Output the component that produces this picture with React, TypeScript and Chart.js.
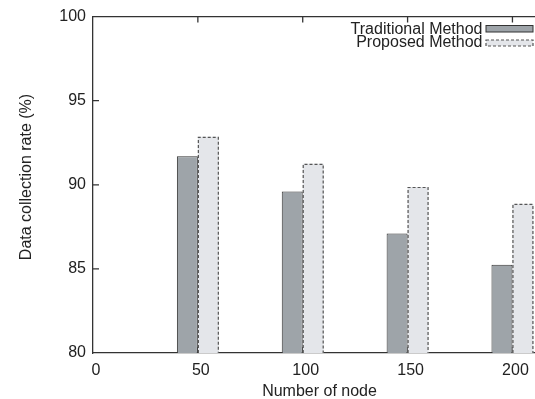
import { useEffect, useRef } from 'react';
import { Chart, registerables } from 'chart.js';

Chart.register(...registerables);

const nodeCounts = [50, 100, 150, 200];
const traditionalRates = [91.7, 89.6, 87.1, 85.25];
const proposedRates = [92.85, 91.25, 89.87, 88.86];
const xTicks = [0, 50, 100, 150, 200];
const yTicks = [80, 85, 90, 95, 100];
const seriesLabels = ['Traditional Method', 'Proposed Method'];
const xTitle = 'Number of node';
const yTitle = 'Data collection rate (%)';

const FONT = "'Liberation Sans', Arial, Helvetica, sans-serif";
const TEXT = '#222';
const AXIS = '#333';
const TRAD_FILL = '#9ea4a9';
const PROP_FILL = '#e4e6ea';
const PROP_BORDER = '#555';

const W = 546;
const H = 399;

const dashedBars = {
  id: 'dashedBars',
  afterDatasetsDraw(chart: any) {
    const ctx = chart.ctx;
    const bottom = chart.chartArea.bottom;
    const meta = chart.getDatasetMeta(1);
    ctx.save();
    ctx.setLineDash([3, 2]);
    ctx.strokeStyle = PROP_BORDER;
    ctx.lineWidth = 1.2;
    meta.data.forEach((el: any) => {
      const { x, y, base, width } = el.getProps(['x', 'y', 'base', 'width'], true);
      const b = Math.min(base, bottom);
      const l = x - width / 2;
      ctx.beginPath();
      ctx.moveTo(l + 0.5, b);
      ctx.lineTo(l + 0.5, y + 0.5);
      ctx.lineTo(l + width - 0.5, y + 0.5);
      ctx.lineTo(l + width - 0.5, b);
      ctx.stroke();
    });
    ctx.restore();
  },
};

const frame = {
  id: 'frame',
  beforeDatasetsDraw(chart: any) {
    const ctx = chart.ctx;
    const { left, right, top, bottom } = chart.chartArea;
    const xs = chart.scales.x;
    const ys = chart.scales.y;
    ctx.save();
    ctx.strokeStyle = AXIS;
    ctx.lineWidth = 1.3;
    ctx.beginPath();
    ctx.moveTo(left, top);
    ctx.lineTo(right, top);
    xTicks.forEach((v) => {
      if (v === 0) return;
      const px = xs.getPixelForValue(v);
      ctx.moveTo(px, top);
      ctx.lineTo(px, top + 6);
      ctx.moveTo(px, bottom);
      ctx.lineTo(px, bottom - 6);
    });
    yTicks.forEach((v) => {
      if (v === 80 || v === 100) return;
      const py = ys.getPixelForValue(v);
      ctx.moveTo(left, py);
      ctx.lineTo(left + 6, py);
    });
    ctx.stroke();

    // y-axis title
    ctx.font = `16px ${FONT}`;
    ctx.fillStyle = TEXT;
    ctx.textAlign = 'center';
    ctx.textBaseline = 'middle';
    ctx.translate(27, 177);
    ctx.rotate(-Math.PI / 2);
    ctx.fillText(yTitle, 0, 0);
    ctx.restore();
  },
};

const legendBox = {
  id: 'legendBox',
  afterDraw(chart: any) {
    const ctx = chart.ctx;
    ctx.save();
    ctx.font = `16px ${FONT}`;
    ctx.textAlign = 'right';
    ctx.textBaseline = 'middle';
    const textX = 482.5;
    const rows = [30, 42.5];
    rows.forEach((cy, i) => {
      ctx.fillStyle = TEXT;
      ctx.fillText(seriesLabels[i], textX, cy);
      const bx = 486;
      const bw = 47;
      if (i === 0) {
        ctx.fillStyle = TRAD_FILL;
        ctx.fillRect(bx, 25.5, bw, 6.5);
        ctx.setLineDash([]);
        ctx.strokeStyle = AXIS;
        ctx.lineWidth = 1;
        ctx.strokeRect(bx, 25.5, bw, 6.5);
      } else {
        ctx.fillStyle = PROP_FILL;
        ctx.fillRect(bx, 40, bw, 6);
        ctx.setLineDash([3, 2]);
        ctx.strokeStyle = PROP_BORDER;
        ctx.lineWidth = 1.2;
        ctx.strokeRect(bx, 40, bw, 6);
      }
    });
    ctx.restore();
  },
};

export default function App() {
  const ref = useRef<HTMLCanvasElement | null>(null);

  useEffect(() => {
    if (!ref.current) return;
    const chart = new Chart(ref.current, {
      type: 'bar',
      data: {
        datasets: [
          {
            label: seriesLabels[0],
            data: nodeCounts.map((x, i) => ({ x, y: traditionalRates[i] })),
            backgroundColor: TRAD_FILL,
            borderColor: AXIS,
            borderWidth: 1,
            borderSkipped: 'start',
            categoryPercentage: 0.4,
            barPercentage: 1,
          },
          {
            label: seriesLabels[1],
            data: nodeCounts.map((x, i) => ({ x, y: proposedRates[i] })),
            backgroundColor: PROP_FILL,
            borderWidth: 0,
            categoryPercentage: 0.4,
            barPercentage: 1,
          },
        ],
      } as any,
      options: {
        animation: false,
        responsive: false,
        maintainAspectRatio: false,
        layout: { padding: { left: 0, right: 0, top: 12, bottom: 0 } },
        plugins: {
          legend: { display: false },
          tooltip: { enabled: false },
        },
        scales: {
          x: {
            type: 'linear',
            min: 0,
            max: 216,
            offset: false,
            grid: { display: false, drawTicks: false },
            border: { display: true, color: AXIS, width: 1.3 },
            ticks: {
              stepSize: 50,
              includeBounds: false,
              padding: 8,
              labelOffset: 3,
              autoSkip: false,
              maxRotation: 0,
              color: TEXT,
              font: { family: FONT, size: 16 },
            },
            afterBuildTicks: (s: any) => {
              s.ticks = xTicks.map((v) => ({ value: v }));
            },
            title: {
              display: true,
              text: xTitle,
              color: TEXT,
              font: { family: FONT, size: 16, lineHeight: 0.95 },
              padding: { top: 0, bottom: 0 },
            },
            afterFit: (s: any) => {
              s.height = H - 353;
            },
          },
          y: {
            type: 'linear',
            min: 80,
            max: 100,
            grid: { display: false, drawTicks: false },
            border: { display: true, color: AXIS, width: 1.3 },
            ticks: {
              stepSize: 5,
              includeBounds: false,
              padding: 7,
              color: TEXT,
              font: { family: FONT, size: 16 },
            },
            afterBuildTicks: (s: any) => {
              s.ticks = yTicks.map((v) => ({ value: v }));
            },
            title: { display: false },
            afterFit: (s: any) => {
              s.width = 93;
            },
          },
        },
      } as any,
      plugins: [frame, dashedBars, legendBox],
    });
    return () => chart.destroy();
  }, []);

  return (
    <div
      style={{
        position: 'fixed',
        left: 0,
        top: 0,
        width: 535,
        height: 399,
        overflow: 'hidden',
        background: '#fff',
      }}
    >
      <canvas ref={ref} width={W} height={H} style={{ width: W, height: H, display: 'block' }} />
    </div>
  );
}
